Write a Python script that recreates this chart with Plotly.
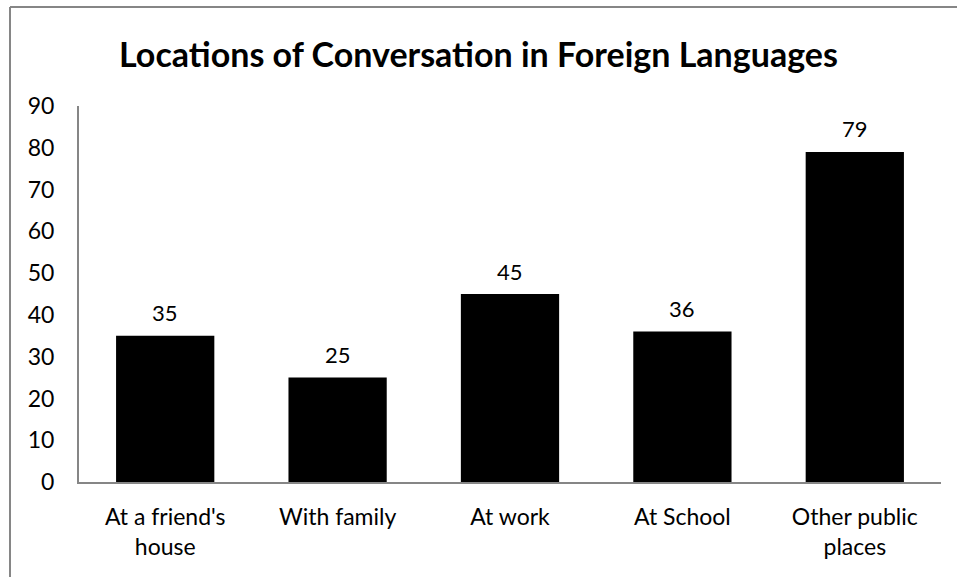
import plotly.graph_objects as go

categories = ["At a friend's<br>house", "With family", "At work", "At School", "Other public<br>places"]
values = [35, 25, 45, 36, 79]
y_ticks = [0, 10, 20, 30, 40, 50, 60, 70, 80, 90]
title_text = "Locations of Conversation in Foreign Languages"

W, H = 957, 577
L, R, T, B = 79, 16, 106, 95
pw, ph = W - L - R, H - T - B
FONT = "Lato, Carlito, sans-serif"

fig = go.Figure(go.Bar(
    x=categories, y=values,
    marker=dict(color="black", line=dict(width=0)),
    width=0.57, hoverinfo="skip",
))

for c, v in zip(categories, values):
    fig.add_annotation(x=c, y=v, text=str(v), showarrow=False, yshift=23,
                       yanchor="middle", font=dict(size=22, color="black", family=FONT))

# chart-area border: left and top edges only are visible in the reference
border = dict(color="#868686", width=2)
fig.add_shape(type="line", xref="paper", yref="paper",
              x0=(10 - L) / pw, x1=(10 - L) / pw, y0=-(H - T - ph + 10) / ph, y1=1 + (T - 7) / ph,
              line=border)
fig.add_shape(type="line", xref="paper", yref="paper",
              x0=(10 - L) / pw, x1=(W + 10 - L) / pw, y0=1 + (T - 7) / ph, y1=1 + (T - 7) / ph,
              line=border)

fig.update_layout(
    width=W, height=H,
    margin=dict(l=L, r=R, t=T, b=B),
    paper_bgcolor="white", plot_bgcolor="white",
    font=dict(family=FONT, color="black", size=23),
    title=dict(text="<b>" + title_text + "</b>", x=0.5, xanchor="center",
               y=1 - 55 / H, yanchor="middle",
               font=dict(size=34, color="black")),
    showlegend=False,
    yaxis=dict(range=[0, 90], tickvals=y_ticks, showgrid=False, zeroline=False,
               showline=True, linecolor="#868686", linewidth=2, ticks="",
               ticklabelstandoff=18, tickfont=dict(size=23)),
    xaxis=dict(showline=True, linecolor="#868686", linewidth=2, ticks="",
               showgrid=False, tickfont=dict(size=23), ticklabelstandoff=13),
)

fig.write_html("out.html", config={"displayModeBar": False},
               post_script="document.body.style.margin='0';document.body.style.overflow='hidden';")
